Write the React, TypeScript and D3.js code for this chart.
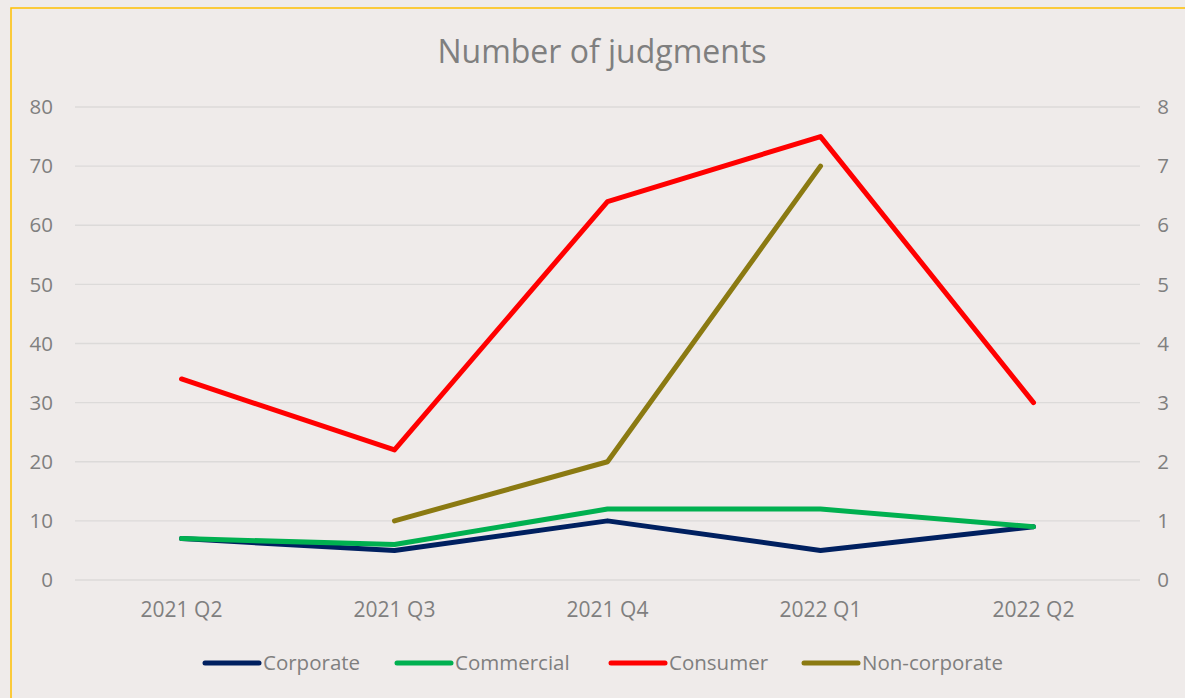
import React from "react";
import * as d3 from "d3";

const categories = ["2021 Q2", "2021 Q3", "2021 Q4", "2022 Q1", "2022 Q2"];
const corporate = [7, 5, 10, 5, 9];
const commercial = [7, 6, 12, 12, 9];
const consumer = [34, 22, 64, 75, 30];
const nonCorporate: (number | null)[] = [null, 1, 2, 7, null];
const leftTicks = [0, 10, 20, 30, 40, 50, 60, 70, 80];
const rightTicks = [0, 1, 2, 3, 4, 5, 6, 7, 8];

const W = 1185;
const H = 698;
const plotLeft = 75;
const plotRight = 1140;
const plotTop = 107;
const plotBottom = 580;
const textColor = "#7f7f7f";
const font = "'Open Sans', 'Noto Sans', sans-serif";

const series = [
  { name: "Corporate", values: corporate as (number | null)[], color: "#002060", axis: "left" },
  { name: "Commercial", values: commercial as (number | null)[], color: "#00b050", axis: "left" },
  { name: "Consumer", values: consumer as (number | null)[], color: "#ff0000", axis: "left" },
  { name: "Non-corporate", values: nonCorporate, color: "#8b7a12", axis: "right" },
];

export default function App() {
  const x = d3.scaleBand<string>().domain(categories).range([plotLeft, plotRight]).padding(0);
  const yL = d3.scaleLinear().domain([0, 80]).range([plotBottom, plotTop]);
  const yR = d3.scaleLinear().domain([0, 8]).range([plotBottom, plotTop]);
  const cx = (c: string) => (x(c) as number) + x.bandwidth() / 2;

  const legendItems = [
    { x: 205, textX: 263 },
    { x: 397, textX: 455 },
    { x: 611, textX: 669 },
    { x: 804, textX: 862 },
  ];

  return (
    <svg width={W} height={H} style={{ position: "absolute", left: 0, top: 0, display: "block" }}>
      <rect x={0} y={0} width={W} height={H} fill="#efebea" />
      <rect x={11} y={8} width={W + 10} height={H + 10} fill="#efebea" stroke="#ffc000" strokeWidth={1.5} />
      <text x={602} y={52} dy="0.35em" textAnchor="middle" fontFamily={font} fontSize={32} fill={textColor}>
        Number of judgments
      </text>
      {leftTicks.map((t) => (
        <g key={"l" + t}>
          <line x1={plotLeft} x2={plotRight} y1={yL(t)} y2={yL(t)} stroke="#dcdad9" strokeWidth={1.3} />
          <text x={53} y={yL(t)} dy="0.35em" textAnchor="end" fontFamily={font} fontSize={20.5} fill={textColor}>
            {t}
          </text>
        </g>
      ))}
      {rightTicks.map((t) => (
        <text key={"r" + t} x={1163} y={yR(t)} dy="0.35em" textAnchor="middle" fontFamily={font} fontSize={20.5} fill={textColor}>
          {t}
        </text>
      ))}
      {categories.map((c) => (
        <text key={c} x={cx(c)} y={610} dy="0.35em" textAnchor="middle" fontFamily={font} fontSize={21} fill={textColor}>
          {c}
        </text>
      ))}
      {series.map((s) => {
        const y = s.axis === "left" ? yL : yR;
        const line = d3
          .line<number | null>()
          .defined((d) => d !== null)
          .x((_, i) => cx(categories[i]))
          .y((d) => y(d as number));
        return (
          <path
            key={s.name}
            d={line(s.values) || ""}
            fill="none"
            stroke={s.color}
            strokeWidth={5}
            strokeLinecap="round"
            strokeLinejoin="round"
          />
        );
      })}
      {series.map((s, i) => (
        <g key={"lg" + s.name}>
          <line x1={legendItems[i].x} x2={legendItems[i].x + 54} y1={663} y2={663} stroke={s.color} strokeWidth={5} strokeLinecap="round" />
          <text x={legendItems[i].textX} y={663} dy="0.35em" fontFamily={font} fontSize={20.5} fill={textColor}>
            {s.name}
          </text>
        </g>
      ))}
    </svg>
  );
}
